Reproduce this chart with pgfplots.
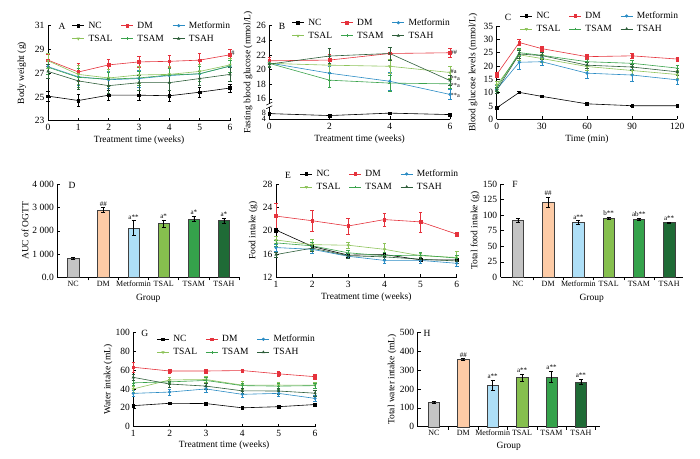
\documentclass[border=0pt]{standalone}
\usepackage{fontspec}
\setmainfont{Liberation Serif}
\usepackage{pgfplots}
\pgfplotsset{compat=1.18}
\definecolor{cDM}{HTML}{E5323C}
\definecolor{cMet}{HTML}{2B8CC4}
\definecolor{cL}{HTML}{8DC35A}
\definecolor{cM}{HTML}{3AA34C}
\definecolor{cH}{HTML}{2E5E3A}
\definecolor{bNC}{HTML}{C4C4C4}
\definecolor{bDM}{HTML}{FDCBA6}
\definecolor{bMet}{HTML}{AEDFF7}
\definecolor{bL}{HTML}{86BF4E}
\definecolor{bM}{HTML}{35A24B}
\definecolor{bH}{HTML}{1F6B36}
\newcommand\fs{\fontsize{9.5}{11}\selectfont}
\newcommand\fss{\fontsize{8}{9}\selectfont}
\newcommand\fan{\fontsize{7}{8}\selectfont}
\newcommand\fab{\fontsize{6.3}{7}\selectfont}
\pgfplotsset{
 panel/.style={scale only axis, axis x line*=bottom, axis y line*=left, tick align=inside,
   major tick length=3pt, minor tick length=3pt, every tick/.style={black, line width=0.5pt},
   axis line style={line width=0.5pt, black}, tick label style={font=\fs}, label style={font=\fs},
   clip=false, /pgf/number format/assume math mode=true},
 yl/.style={ylabel style={at={(axis description cs:#1,0.5)}, anchor=center}},
 xl/.style={xlabel style={at={(axis description cs:0.5,#1)}, anchor=center}},
 linepanel/.style={panel, legend columns=3, legend cell align=left,
   legend style={draw=none, fill=none, font=\fs, anchor=north west, inner sep=0pt, outer sep=0pt,
     row sep=3pt, nodes={inner sep=0.5pt, text height=7pt, text depth=2pt},
     /tikz/every odd column/.append style={column sep=3.5pt},
     /tikz/every even column/.append style={column sep=8pt}},
   legend image code/.code={\draw[mark repeat=2, mark phase=2] plot coordinates {(0pt,0pt) (6pt,0pt) (12pt,0pt)};}},
 ser/.style={line width=0.6pt, mark size=1.3pt, error bars/y dir=both, error bars/y explicit,
   error bars/error bar style={line width=0.5pt},
   error bars/error mark options={rotate=90, mark size=1.8pt, line width=0.5pt}},
 sNC/.style={ser, black, mark=square*},
 sDM/.style={ser, cDM, mark=square*},
 sMet/.style={ser, cMet, mark=*},
 sL/.style={ser, cL, mark=triangle*, mark options={rotate=180}},
 sM/.style={ser, cM, mark=+},
 sH/.style={ser, cH, mark=triangle*},
 barpanel/.style={panel, ybar, bar width=11.5pt, bar shift=0pt, ymin=0,
   xtick={0.5,1.5,2.5,3.5,4.5,5.5}, xticklabels={,,,,,},
   extra x ticks={0,1,2,3,4,5}, extra x tick labels={NC,DM,Metformin,TSAL,TSAM,TSAH},
   extra x tick style={major tick length=0pt, tick label style={font=\fss}},
   xlabel={Group}},
 bb/.style={draw=black!75, line width=0.4pt, error bars/y dir=both, error bars/y explicit,
   error bars/error bar style={black, line width=0.5pt},
   error bars/error mark options={black, rotate=90, mark size=2pt, line width=0.5pt}},
}
\begin{document}
\begin{tikzpicture}
\useasboundingbox (0,0) rectangle (700pt,458pt);
% ---------------- A
\begin{axis}[linepanel, at={(48pt,337.3pt)}, anchor=south west, width=182pt, height=95pt,
  xmin=0, xmax=6, ymin=23, ymax=31, xtick={0,...,6}, ytick={23,25,27,29,31},
  xlabel={Treatment time (weeks)}, ylabel={Body weight (g)}, yl=-0.143, xl=-0.203,
  legend style={at={(0.132,1.053)}}]
\addplot[sNC] coordinates {(0,25.07)+-(0,0.4) (1,24.7)+-(0,0.5) (2,25.15)+-(0,0.4) (3,25.15)+-(0,0.45) (4,25.1)+-(0,0.5) (5,25.4)+-(0,0.4) (6,25.75)+-(0,0.35)};
\addplot[sDM] coordinates {(0,28.1)+-(0,0.5) (1,27.1)+-(0,0.7) (2,27.7)+-(0,0.5) (3,27.95)+-(0,0.45) (4,28.0)+-(0,0.5) (5,28.1)+-(0,0.55) (6,28.55)+-(0,0.45)};
\addplot[sMet] coordinates {(0,27.55)+-(0,0.6) (1,26.7)+-(0,0.7) (2,26.45)+-(0,0.7) (3,26.55)+-(0,0.7) (4,26.8)+-(0,0.6) (5,26.95)+-(0,0.6) (6,27.6)+-(0,0.5)};
\addplot[sL] coordinates {(0,28.05)+-(0,0.6) (1,26.9)+-(0,0.8) (2,26.6)+-(0,0.7) (3,26.85)+-(0,0.7) (4,26.9)+-(0,0.7) (5,27.15)+-(0,0.6) (6,27.7)+-(0,0.6)};
\addplot[sM] coordinates {(0,27.5)+-(0,0.6) (1,26.65)+-(0,0.8) (2,26.5)+-(0,0.6) (3,26.6)+-(0,0.6) (4,26.85)+-(0,0.6) (5,26.95)+-(0,0.6) (6,27.6)+-(0,0.5)};
\addplot[sH] coordinates {(0,27.15)+-(0,0.6) (1,26.35)+-(0,0.7) (2,25.95)+-(0,0.6) (3,26.2)+-(0,0.6) (4,26.2)+-(0,0.6) (5,26.55)+-(0,0.6) (6,26.9)+-(0,0.6)};
\legend{NC,DM,Metformin,TSAL,TSAM,TSAH}
\node[font=\fs] at (rel axis cs:0.077,0.997) {A};
\node[font=\fan, anchor=west, inner sep=1pt] at (axis cs:6,28.65) {\#};
\end{axis}
% ---------------- B
\begin{axis}[linepanel, at={(269.3pt,338.7pt)}, anchor=south west, width=180.7pt, height=93.6pt,
  xmin=0, xmax=6, ymin=13.2, ymax=26, xtick={0,2,4,6},
  ytick={13.2,14.09,16,18,20,22,24,26},
  yticklabels={{\fontsize{8}{8}\selectfont 4},{\fontsize{8}{8}\selectfont 8},16,18,20,22,24,26},
  xlabel={Treatment time (weeks)}, ylabel={Fasting blood glucose (mmol/L)}, yl=-0.118, xl=-0.21,
  legend style={at={(0.124,1.085)}}]
\addplot[sNC, error bars/y dir=none, y filter/.expression={13.2+(y-4)*0.2225}] coordinates {(0,7.5) (2,6.3) (4,7.8) (6,6.9)};
\addplot[sDM] coordinates {(0,21.2)+-(0,0.5) (2,21.3)+-(0,0.8) (4,22.2)+-(0,0.8) (6,22.3)+-(0,0.6)};
\addplot[sMet] coordinates {(0,20.9)+-(0,0.4) (2,19.5)+-(0,1.0) (4,18.4)+-(0,1.2) (6,16.6)+-(0,0.7)};
\addplot[sL] coordinates {(0,20.85)+-(0,0.4) (2,20.6)+-(0,0.9) (4,20.45)+-(0,1.0) (6,19.6)+-(0,0.8)};
\addplot[sM] coordinates {(0,20.85)+-(0,0.4) (2,18.55)+-(0,0.9) (4,18.15)+-(0,1.1) (6,18.05)+-(0,0.6)};
\addplot[sH] coordinates {(0,20.75)+-(0,0.4) (2,21.85)+-(0,1.0) (4,22.2)+-(0,0.9) (6,18.5)+-(0,0.7)};
\legend{NC,DM,Metformin,TSAL,TSAM,TSAH}
\node[font=\fs] at (rel axis cs:0.07,0.997) {B};
\draw[white, line width=2pt] (axis cs:0,14.85) -- (axis cs:0,15.35);
\draw[black, line width=0.5pt] (axis cs:0,14.85) ++(-3pt,-1.5pt) -- ++(6pt,3pt);
\draw[black, line width=0.5pt] (axis cs:0,15.35) ++(-3pt,-1.5pt) -- ++(6pt,3pt);
\node[font=\fab, anchor=west, inner sep=0.5pt] at (axis cs:6,22.3) {\#\#};
\node[font=\fab, anchor=west, inner sep=0.5pt] at (axis cs:6,19.75) {\#a};
\node[font=\fab, anchor=west, inner sep=0.5pt] at (axis cs:6,18.75) {**a};
\node[font=\fab, anchor=west, inner sep=0.5pt] at (axis cs:6,17.8) {**a};
\node[font=\fab, anchor=west, inner sep=0.5pt] at (axis cs:6,16.5) {**a};
\end{axis}
% ---------------- C
\begin{axis}[linepanel, at={(496.7pt,338.7pt)}, anchor=south west, width=180.6pt, height=93.3pt,
  xmin=0, xmax=120, ymin=0, ymax=35, xtick={0,30,60,90,120}, ytick={0,5,...,35},
  xlabel={Time (min)}, ylabel={Blood glucose levels (mmol/L)}, yl=-0.131, xl=-0.21,
  legend style={at={(0.129,1.161)}}]
\addplot[sNC] coordinates {(0,4.3)+-(0,0.3) (15,10.1)+-(0,0.4) (30,8.6)+-(0,0.3) (60,5.8)+-(0,0.3) (90,5.1)+-(0,0.3) (120,5.1)+-(0,0.3)};
\addplot[sDM] coordinates {(0,16.8)+-(0,1.0) (15,28.8)+-(0,1.2) (30,26.5)+-(0,0.8) (60,23.5)+-(0,1.0) (90,23.8)+-(0,1.0) (120,22.6)+-(0,0.8)};
\addplot[sMet] coordinates {(0,11.2)+-(0,1.5) (15,21.4)+-(0,2.5) (30,21.6)+-(0,1.5) (60,17.3)+-(0,1.8) (90,16.6)+-(0,2.2) (120,14.8)+-(0,1.8)};
\addplot[sL] coordinates {(0,12.8)+-(0,1.5) (15,24.2)+-(0,2.0) (30,22.8)+-(0,1.5) (60,19.8)+-(0,1.5) (90,18.3)+-(0,1.5) (120,16.8)+-(0,1.5)};
\addplot[sM] coordinates {(0,11.8)+-(0,1.2) (15,25.0)+-(0,1.5) (30,24.0)+-(0,1.2) (60,21.6)+-(0,1.2) (90,21.0)+-(0,1.2) (120,19.2)+-(0,1.2)};
\addplot[sH] coordinates {(0,10.9)+-(0,1.2) (15,24.5)+-(0,1.5) (30,23.9)+-(0,1.2) (60,20.3)+-(0,1.2) (90,19.6)+-(0,1.2) (120,17.8)+-(0,1.2)};
\legend{NC,DM,Metformin,TSAL,TSAM,TSAH}
\node[font=\fs] at (rel axis cs:0.063,1.093) {C};
\end{axis}
% ---------------- D
\begin{axis}[barpanel, at={(57.3pt,180.7pt)}, anchor=south west, width=181.7pt, height=93pt,
  xmin=-0.53, xmax=5.5, ymax=4000, ytick={0,1000,2000,3000,4000},
  yticklabels={0.0,1 000,2 000,3 000,4 000}, ylabel={AUC of OGTT}, yl=-0.178, xl=-0.225]
\addplot[bb, fill=bNC] coordinates {(0,820)+-(0,30)};
\addplot[bb, fill=bDM] coordinates {(1,2900)+-(0,100)};
\addplot[bb, fill=bMet] coordinates {(2,2120)+-(0,330)};
\addplot[bb, fill=bL] coordinates {(3,2320)+-(0,150)};
\addplot[bb, fill=bM] coordinates {(4,2520)+-(0,120)};
\addplot[bb, fill=bH] coordinates {(5,2440)+-(0,110)};
\node[font=\fs] at (rel axis cs:0.081,0.992) {D};
\node[font=\fan, anchor=south, inner sep=1pt] at (axis cs:1,3000) {\#\#};
\node[font=\fan, anchor=south, inner sep=1pt] at (axis cs:2,2450) {a**};
\node[font=\fan, anchor=south, inner sep=1pt] at (axis cs:3,2470) {a*};
\node[font=\fan, anchor=south, inner sep=1pt] at (axis cs:4,2640) {a*};
\node[font=\fan, anchor=south, inner sep=1pt] at (axis cs:5,2550) {a*};
\end{axis}
% ---------------- E
\begin{axis}[linepanel, at={(276pt,180.7pt)}, anchor=south west, width=180.7pt, height=93.3pt,
  xmin=1, xmax=6, ymin=12, ymax=28, xtick={1,...,6}, ytick={12,16,20,24,28},
  xlabel={Treatment time (weeks)}, ylabel={Food intake (g)}, yl=-0.127, xl=-0.215,
  legend style={at={(0.133,1.161)}}]
\addplot[sNC] coordinates {(1,20.1)+-(0,0.3) (2,17.3)+-(0,0.4) (3,15.8)+-(0,0.3) (4,15.9)+-(0,0.3) (5,15.0)+-(0,0.3) (6,15.0)+-(0,0.3)};
\addplot[sDM] coordinates {(1,22.5)+-(0,2.2) (2,21.7)+-(0,1.8) (3,20.8)+-(0,1.4) (4,21.9)+-(0,1.1) (5,21.5)+-(0,1.7) (6,19.4)+-(0,0.4)};
\addplot[sMet] coordinates {(1,17.1)+-(0,0.6) (2,16.8)+-(0,0.6) (3,15.6)+-(0,0.4) (4,14.9)+-(0,0.5) (5,14.9)+-(0,0.5) (6,14.4)+-(0,0.5)};
\addplot[sL] coordinates {(1,18.4)+-(0,0.6) (2,17.6)+-(0,0.9) (3,17.5)+-(0,0.5) (4,16.8)+-(0,1.0) (5,15.7)+-(0,0.5) (6,15.4)+-(0,1.0)};
\addplot[sM] coordinates {(1,17.9)+-(0,0.5) (2,17.4)+-(0,0.6) (3,16.2)+-(0,0.4) (4,15.7)+-(0,0.6) (5,15.8)+-(0,0.5) (6,15.3)+-(0,0.5)};
\addplot[sH] coordinates {(1,15.9)+-(0,0.4) (2,17.0)+-(0,0.5) (3,15.7)+-(0,0.4) (4,15.5)+-(0,0.4) (5,15.1)+-(0,0.4) (6,14.8)+-(0,0.4)};
\legend{NC,DM,Metformin,TSAL,TSAM,TSAH}
\node[font=\fs] at (rel axis cs:0.066,1.096) {E};
\end{axis}
% ---------------- F
\begin{axis}[barpanel, at={(500.7pt,180.7pt)}, anchor=south west, width=182pt, height=93.3pt,
  xmin=-0.57, xmax=5.45, ymax=150, ytick={0,25,...,150}, ylabel={Total food intake (g)}, yl=-0.141, xl=-0.225]
\addplot[bb, fill=bNC] coordinates {(0,92)+-(0,3)};
\addplot[bb, fill=bDM] coordinates {(1,121)+-(0,8)};
\addplot[bb, fill=bMet] coordinates {(2,88)+-(0,3)};
\addplot[bb, fill=bL] coordinates {(3,95)+-(0,2)};
\addplot[bb, fill=bM] coordinates {(4,93)+-(0,2)};
\addplot[bb, fill=bH] coordinates {(5,88)+-(0,1)};
\node[font=\fs] at (rel axis cs:0.079,1.0) {F};
\node[font=\fan, anchor=south, inner sep=1pt] at (axis cs:1,129) {\#\#};
\node[font=\fan, anchor=south, inner sep=1pt] at (axis cs:2,91) {a**};
\node[font=\fan, anchor=south, inner sep=1pt] at (axis cs:3,97) {b**};
\node[font=\fan, anchor=south, inner sep=1pt] at (axis cs:4,95) {ab**};
\node[font=\fan, anchor=south, inner sep=1pt] at (axis cs:5,89) {a**};
\end{axis}
% ---------------- G
\begin{axis}[linepanel, at={(133.3pt,31.3pt)}, anchor=south west, width=181.7pt, height=94.4pt,
  xmin=1, xmax=6, ymin=0, ymax=100, xtick={1,...,6}, ytick={0,20,...,100},
  xlabel={Treatment time (weeks)}, ylabel={Water intake (mL)}, yl=-0.139, xl=-0.196,
  legend style={at={(0.129,0.979)}}]
\addplot[sNC] coordinates {(1,22.3)+-(0,1.5) (2,24.8)+-(0,1.2) (3,24.5)+-(0,1.2) (4,20)+-(0,1) (5,21.2)+-(0,1) (6,23.5)+-(0,1.2)};
\addplot[sDM] coordinates {(1,63)+-(0,5) (2,59)+-(0,2) (3,59)+-(0,2) (4,59.5)+-(0,1.5) (5,56)+-(0,3) (6,53)+-(0,3)};
\addplot[sMet] coordinates {(1,35.3)+-(0,3) (2,36.7)+-(0,3) (3,40)+-(0,3) (4,34.3)+-(0,3) (5,35.3)+-(0,3) (6,30)+-(0,3)};
\addplot[sL] coordinates {(1,40)+-(0,3) (2,49.5)+-(0,3) (3,50)+-(0,3) (4,44)+-(0,4) (5,44)+-(0,3) (6,44)+-(0,3)};
\addplot[sM] coordinates {(1,46.5)+-(0,3) (2,47.5)+-(0,3) (3,49)+-(0,3) (4,43.5)+-(0,3) (5,43)+-(0,3) (6,43.5)+-(0,3)};
\addplot[sH] coordinates {(1,52.3)+-(0,3) (2,45.2)+-(0,3) (3,43)+-(0,3) (4,38)+-(0,3) (5,37.8)+-(0,3) (6,35.5)+-(0,3)};
\legend{NC,DM,Metformin,TSAL,TSAM,TSAH}
\node[font=\fs] at (rel axis cs:0.064,0.993) {G};
\end{axis}
% ---------------- H
\begin{axis}[barpanel, at={(417.7pt,31.3pt)}, anchor=south west, width=182.3pt, height=94.4pt,
  xmin=-0.55, xmax=5.65, ymax=500, ytick={0,100,...,500}, ylabel={Total water intake (mL)}, yl=-0.141, xl=-0.205]
\addplot[bb, fill=bNC] coordinates {(0,130)+-(0,5)};
\addplot[bb, fill=bDM] coordinates {(1,355)+-(0,5)};
\addplot[bb, fill=bMet] coordinates {(2,220)+-(0,28)};
\addplot[bb, fill=bL] coordinates {(3,260)+-(0,20)};
\addplot[bb, fill=bM] coordinates {(4,263)+-(0,30)};
\addplot[bb, fill=bH] coordinates {(5,238)+-(0,12)};
\node[font=\fs] at (rel axis cs:0.051,0.993) {H};
\node[font=\fan, anchor=south, inner sep=1pt] at (axis cs:1,362) {\#\#};
\node[font=\fan, anchor=south, inner sep=1pt] at (axis cs:2,250) {a**};
\node[font=\fan, anchor=south, inner sep=1pt] at (axis cs:3,282) {a**};
\node[font=\fan, anchor=south, inner sep=1pt] at (axis cs:4,295) {a**};
\node[font=\fan, anchor=south, inner sep=1pt] at (axis cs:5,252) {a**};
\end{axis}
\end{tikzpicture}
\end{document}
